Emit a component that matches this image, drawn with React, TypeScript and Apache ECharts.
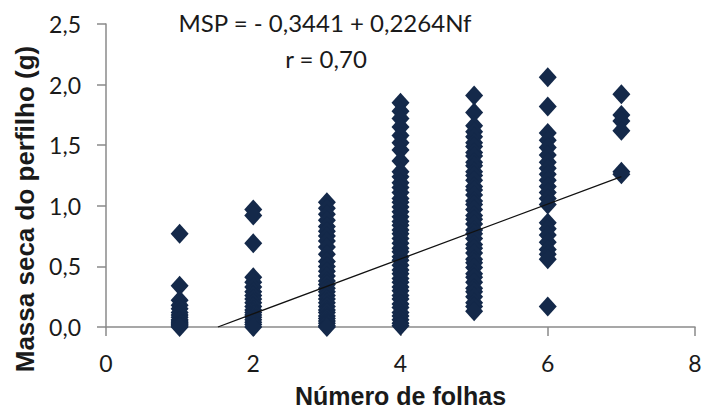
import React, { useEffect, useRef } from "react";
import * as echarts from "echarts";

// Leaf count categories (x) and dry mass values (y)
const leaves1 = [0.77, 0.34, 0.22, 0.18, 0.15, 0.12, 0.1, 0.08, 0.06, 0.05, 0.04, 0.03, 0.02, 0.01, 0.0];
const leaves2 = [0.97, 0.92, 0.69, 0.41, 0.37, 0.33, 0.29, 0.26, 0.23, 0.2, 0.17, 0.14, 0.12, 0.1, 0.08, 0.06, 0.04, 0.02, 0.0];
const leaves3 = [1.03, 0.98, 0.93, 0.88, 0.83, 0.79, 0.75, 0.71, 0.66, 0.6, 0.54, 0.5, 0.46, 0.42, 0.38, 0.35, 0.32, 0.29, 0.26, 0.23, 0.2, 0.17, 0.14, 0.12, 0.09, 0.07, 0.05, 0.03, 0.01, 0.0];
const leaves4 = [1.85, 1.78, 1.72, 1.65, 1.58, 1.52, 1.46, 1.37, 1.28, 1.24, 1.19, 1.15, 1.11, 1.06, 1.03, 0.99, 0.95, 0.91, 0.87, 0.84, 0.8, 0.77, 0.73, 0.69, 0.65, 0.62, 0.58, 0.55, 0.51, 0.47, 0.44, 0.4, 0.37, 0.33, 0.3, 0.26, 0.23, 0.19, 0.16, 0.12, 0.09, 0.06, 0.03, 0.01];
const leaves5 = [1.91, 1.77, 1.66, 1.61, 1.57, 1.52, 1.49, 1.44, 1.41, 1.36, 1.33, 1.28, 1.25, 1.21, 1.16, 1.13, 1.09, 1.04, 1.01, 0.97, 0.92, 0.89, 0.85, 0.8, 0.77, 0.73, 0.68, 0.65, 0.61, 0.56, 0.53, 0.49, 0.44, 0.41, 0.37, 0.32, 0.29, 0.25, 0.2, 0.17, 0.13];
const leaves6 = [2.06, 1.82, 1.6, 1.54, 1.48, 1.42, 1.36, 1.31, 1.26, 1.21, 1.16, 1.11, 1.06, 1.01, 0.86, 0.81, 0.76, 0.7, 0.64, 0.6, 0.56, 0.17];
const leaves7 = [1.92, 1.75, 1.7, 1.62, 1.28, 1.26];

const groups: [number, number[]][] = [
  [1, leaves1],
  [2, leaves2],
  [3, leaves3],
  [4, leaves4],
  [5, leaves5],
  [6, leaves6],
  [7, leaves7],
];

// Regression MSP = -0.3441 + 0.2264 Nf, drawn between these Nf values
const intercept = -0.3441;
const slope = 0.2264;
const trendX = [1.52, 7];

const equationText = "MSP = - 0,3441 + 0,2264Nf";
const rText = "r = 0,70";
const xTitle = "Número de folhas";
const yTitle = "Massa seca do perfilho (g)";

export default function App() {
  const ref = useRef<HTMLDivElement>(null);
  useEffect(() => {
    if (!ref.current) return;
    const chart = echarts.init(ref.current, null, { renderer: "svg" });
    const points: number[][] = [];
    groups.forEach(([x, vals]) => vals.forEach((v) => points.push([x, v])));
    const trend = trendX.map((x) => [x, intercept + slope * x]);
    const axisColor = "#8a8a8a";
    const labelFont = { fontFamily: "Lato", fontSize: 23, color: "#1a1a1a" };
    const titleFont = { fontFamily: "Liberation Sans", fontWeight: "bold" as const, fontSize: 26 };
    chart.setOption({
      animation: false,
      backgroundColor: "#ffffff",
      grid: { left: 106, right: 11, top: 24, bottom: 85, containLabel: false, outerBoundsMode: "none" },
      xAxis: {
        type: "value",
        min: 0,
        max: 8,
        interval: 2,
        name: xTitle,
        nameLocation: "middle",
        nameGap: 56,
        nameTextStyle: { ...titleFont, fontSize: 25, lineHeight: 26, color: "#1a1a1a" },
        axisLine: { show: true, onZero: false, lineStyle: { color: axisColor, width: 1.5 } },
        axisTick: { show: true, length: 9, lineStyle: { color: axisColor, width: 1.5 } },
        axisLabel: { ...labelFont, margin: 24 },
        splitLine: { show: false },
      },
      yAxis: {
        type: "value",
        min: 0,
        max: 2.5,
        interval: 0.5,
        axisLine: { show: true, lineStyle: { color: axisColor, width: 1.5 } },
        axisTick: { show: true, length: 9, lineStyle: { color: axisColor, width: 1.5 } },
        axisLabel: {
          ...labelFont,
          margin: 25,
          formatter: (v: number) => v.toFixed(1).replace(".", ","),
        },
        splitLine: { show: false },
      },
      graphic: [
        {
          type: "text",
          x: 25,
          y: 209,
          rotation: Math.PI / 2,
          style: {
            text: yTitle,
            ...titleFont,
            fill: "#1a1a1a",
            align: "center",
            verticalAlign: "middle",
          },
        },
        {
          type: "text",
          x: 325,
          y: 22,
          style: {
            text: equationText,
            fontFamily: "Lato",
            fontSize: 24,
            fill: "#1a1a1a",
            align: "center",
            verticalAlign: "middle",
          },
        },
        {
          type: "text",
          x: 326,
          y: 58,
          style: {
            text: rText,
            fontFamily: "Lato",
            fontSize: 24,
            fill: "#1a1a1a",
            align: "center",
            verticalAlign: "middle",
          },
        },
      ],
      series: [
        {
          type: "scatter",
          data: points,
          symbol: "diamond",
          symbolSize: [18, 20],
          itemStyle: { color: "#14294a", opacity: 1 },
          z: 2,
        },
        {
          type: "line",
          data: trend,
          symbol: "none",
          lineStyle: { color: "#111111", width: 1.3 },
          z: 3,
        },
      ],
    });
    return () => chart.dispose();
  }, []);
  return <div ref={ref} style={{ width: 706, height: 412, position: "absolute", left: 0, top: 0 }} />;
}
